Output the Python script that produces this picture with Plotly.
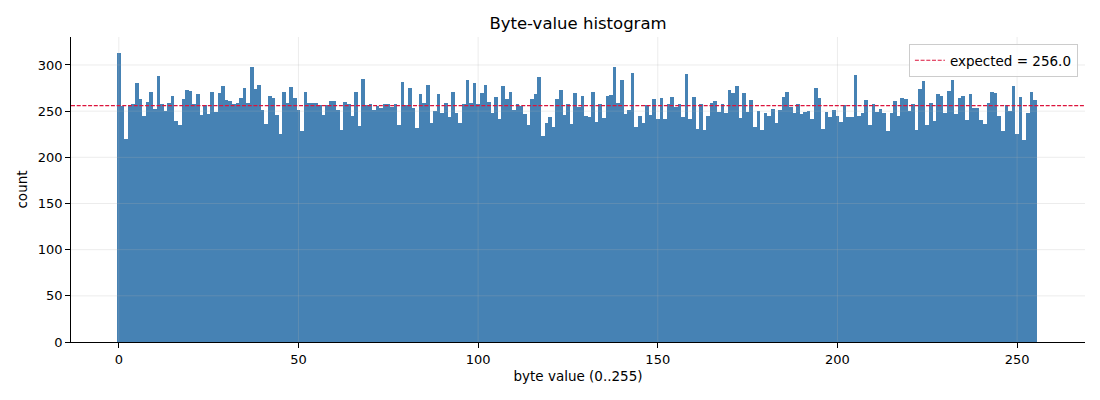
import plotly.graph_objects as go

# byte value -> count
BYTE_VALUES = list(range(256))
COUNTS = [
    313, 256, 220, 256, 258, 280, 263, 245, 260, 271, 252, 288, 258, 250, 259, 266,
    239, 235, 263, 273, 272, 258, 269, 246, 257, 247, 271, 249, 270, 277, 262, 261,
    258, 259, 264, 275, 259, 298, 274, 278, 251, 236, 266, 264, 246, 225, 271, 259,
    276, 264, 251, 229, 271, 259, 259, 259, 257, 246, 257, 261, 261, 251, 230, 260,
    258, 245, 271, 234, 285, 257, 258, 251, 256, 253, 258, 258, 255, 258, 235, 282,
    257, 275, 253, 232, 269, 259, 278, 237, 250, 269, 248, 259, 244, 271, 248, 237,
    258, 284, 259, 281, 258, 270, 278, 260, 248, 265, 242, 277, 263, 271, 251, 258,
    256, 247, 235, 263, 269, 287, 223, 237, 244, 233, 263, 273, 246, 258, 236, 270,
    255, 266, 245, 244, 271, 238, 258, 243, 266, 268, 298, 259, 284, 247, 251, 291,
    233, 245, 237, 257, 246, 263, 242, 264, 242, 258, 265, 255, 258, 244, 290, 242,
    265, 231, 258, 230, 245, 259, 261, 249, 258, 248, 273, 270, 277, 243, 270, 249,
    262, 233, 250, 230, 248, 245, 252, 237, 251, 265, 271, 255, 248, 258, 247, 249,
    250, 242, 275, 264, 231, 249, 244, 251, 245, 238, 257, 244, 244, 289, 245, 248,
    262, 235, 258, 249, 252, 248, 229, 248, 261, 245, 264, 263, 250, 258, 230, 274,
    283, 235, 259, 239, 269, 266, 248, 272, 284, 247, 264, 266, 240, 269, 253, 253,
    240, 236, 259, 271, 270, 245, 229, 257, 250, 277, 225, 265, 219, 248, 271, 262,
]
EXPECTED = 256.0
X_TICKS = [0, 50, 100, 150, 200, 250]
Y_TICKS = [0, 50, 100, 150, 200, 250, 300]

FONT = "DejaVu Sans"
GRID = "rgba(176,176,176,0.3)"

fig = go.Figure()
fig.add_trace(go.Bar(
    x=BYTE_VALUES,
    y=COUNTS,
    width=1,
    marker=dict(color="#4682B4", line=dict(width=0)),
    showlegend=False,
))

# matplotlib draws the grid over the bars, so use shapes on the top layer
for v in X_TICKS:
    fig.add_shape(type="line", xref="x", yref="y domain", x0=v, x1=v, y0=0, y1=1,
                  line=dict(color=GRID, width=0.8), layer="above")
for v in Y_TICKS[1:]:
    fig.add_shape(type="line", xref="x domain", yref="y", x0=0, x1=1, y0=v, y1=v,
                  line=dict(color=GRID, width=0.8), layer="above")

fig.add_hline(
    y=EXPECTED,
    line=dict(color="#DC143C", width=1.1, dash="4px,1.7px"),
    layer="above",
    showlegend=True,
    name=f"expected = {EXPECTED}",
)

axis_common = dict(
    showgrid=False,
    zeroline=False,
    showline=True,
    linecolor="black",
    linewidth=0.8,
    ticks="outside",
    ticklen=5,
    tickwidth=0.8,
    tickcolor="black",
    tickfont=dict(family=FONT, size=13, color="black"),
)

# the page body adds an 8px margin, so the figure is a little smaller than the window
fig.update_layout(
    width=1092,
    height=392,
    paper_bgcolor="white",
    plot_bgcolor="white",
    margin=dict(l=63, r=15, t=29, b=58),
    bargap=0,
    font=dict(family=FONT, color="black"),
    title=dict(text="Byte-value histogram", xref="paper", x=0.5, xanchor="center",
               y=0.962, yanchor="middle",
               font=dict(family=FONT, size=16.5, color="black")),
    xaxis=dict(range=[-13.3, 268.9], tickvals=X_TICKS,
               title=dict(text="byte value (0..255)", standoff=6,
                          font=dict(family=FONT, size=13.5)),
               **axis_common),
    yaxis=dict(range=[0, 330.3], tickvals=Y_TICKS,
               title=dict(text="count", standoff=6,
                          font=dict(family=FONT, size=13.5)),
               **axis_common),
    legend=dict(x=0.993, y=0.977, xanchor="right", yanchor="top",
                bgcolor="rgba(255,255,255,0.8)", bordercolor="#cccccc",
                borderwidth=1, font=dict(family=FONT, size=13.5)),
)

fig.write_html("out.html")
